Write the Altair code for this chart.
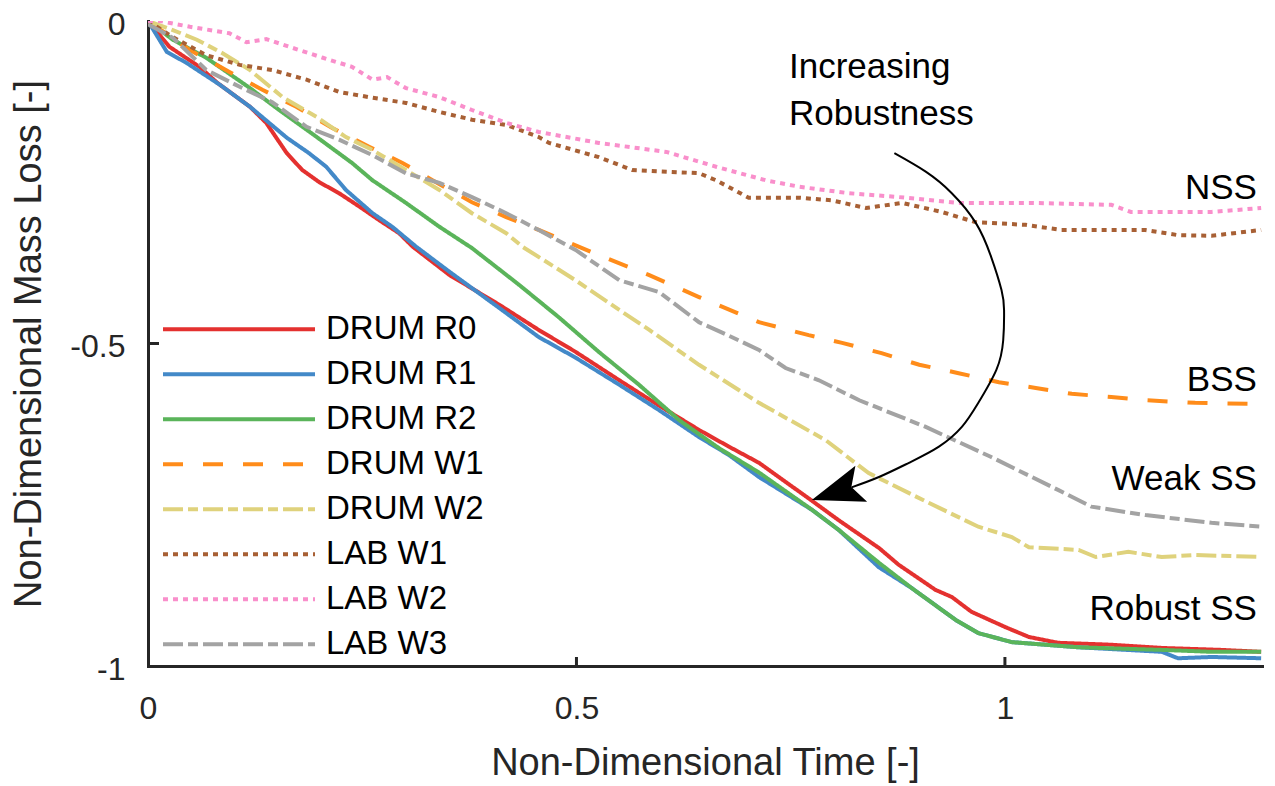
import altair as alt
import pandas as pd

FONT = "Liberation Sans"
AXIS_COLOR = "#262626"

series_names = ["DRUM R0", "DRUM R1", "DRUM R2", "DRUM W1", "DRUM W2", "LAB W1", "LAB W2", "LAB W3"]
series_colors = ["#e4312f", "#4389c8", "#5ab45a", "#ff8c1a", "#dfd27c", "#a86035", "#f98fcb", "#a3a3a3"]
series_dashes = [[1, 0], [1, 0], [1, 0], [20, 20], [20, 5, 10, 5], [5, 5], [5, 5], [20, 5, 10, 5]]

# DRUM R0
r0_t = [0, 0.025, 0.060, 0.081, 0.119, 0.138, 0.162, 0.180, 0.200, 0.223, 0.247, 0.270, 0.293, 0.309, 0.352,
        0.410, 0.456, 0.499, 0.550, 0.596, 0.643, 0.678, 0.713, 0.775, 0.806, 0.853, 0.876, 0.919, 0.938, 0.961,
        1.001, 1.028, 1.062, 1.124, 1.183, 1.252, 1.299]
r0_m = [0, -0.040, -0.071, -0.096, -0.133, -0.158, -0.205, -0.231, -0.250, -0.267, -0.288, -0.309, -0.329, -0.350,
        -0.394, -0.440, -0.479, -0.513, -0.557, -0.596, -0.634, -0.660, -0.685, -0.744, -0.774, -0.817, -0.843,
        -0.882, -0.893, -0.916, -0.940, -0.955, -0.964, -0.967, -0.972, -0.975, -0.978]
# DRUM R1
r1_t = [0, 0.022, 0.045, 0.084, 0.119, 0.162, 0.188, 0.208, 0.231, 0.262, 0.285, 0.313, 0.352, 0.410, 0.456,
        0.499, 0.550, 0.596, 0.643, 0.678, 0.713, 0.775, 0.806, 0.853, 0.891, 0.943, 0.969, 1.008, 1.086, 1.183,
        1.202, 1.241, 1.299]
r1_m = [0, -0.048, -0.065, -0.099, -0.133, -0.181, -0.205, -0.226, -0.262, -0.298, -0.319, -0.350, -0.389, -0.445,
        -0.490, -0.522, -0.564, -0.603, -0.645, -0.673, -0.707, -0.758, -0.789, -0.847, -0.879, -0.929, -0.949,
        -0.963, -0.971, -0.978, -0.988, -0.986, -0.988]
# DRUM R2
r2_t = [0, 0.029, 0.068, 0.119, 0.153, 0.197, 0.238, 0.262, 0.301, 0.340, 0.378, 0.433, 0.480, 0.526, 0.573,
        0.620, 0.666, 0.713, 0.775, 0.806, 0.853, 0.891, 0.943, 0.969, 1.008, 1.086, 1.183, 1.241, 1.299]
r2_m = [0, -0.029, -0.057, -0.104, -0.138, -0.180, -0.220, -0.247, -0.282, -0.319, -0.352, -0.409, -0.460, -0.513,
        -0.564, -0.619, -0.662, -0.700, -0.758, -0.789, -0.840, -0.879, -0.929, -0.949, -0.963, -0.971, -0.975,
        -0.978, -0.978]
# DRUM W1
w1_t = [0, 0.049, 0.095, 0.134, 0.173, 0.215, 0.258, 0.297, 0.332, 0.378, 0.418, 0.456, 0.526, 0.585, 0.643,
        0.713, 0.771, 0.810, 0.856, 0.900, 0.946, 0.993, 1.036, 1.078, 1.124, 1.164, 1.222, 1.299]
w1_m = [0, -0.045, -0.079, -0.107, -0.133, -0.166, -0.195, -0.220, -0.247, -0.281, -0.304, -0.324, -0.363, -0.394,
        -0.428, -0.467, -0.487, -0.499, -0.515, -0.533, -0.546, -0.560, -0.569, -0.578, -0.583, -0.588, -0.592,
        -0.594]
# DRUM W2
w2_t = [0, 0.029, 0.057, 0.087, 0.119, 0.157, 0.197, 0.231, 0.262, 0.301, 0.340, 0.378, 0.418, 0.437, 0.499,
        0.550, 0.585, 0.643, 0.713, 0.791, 0.841, 0.911, 0.969, 1.008, 1.028, 1.086, 1.106, 1.144, 1.183, 1.222,
        1.299]
w2_m = [0, -0.014, -0.029, -0.050, -0.076, -0.118, -0.149, -0.180, -0.200, -0.231, -0.262, -0.298, -0.329, -0.350,
        -0.402, -0.448, -0.479, -0.533, -0.592, -0.650, -0.701, -0.747, -0.784, -0.800, -0.816, -0.820, -0.831,
        -0.823, -0.831, -0.828, -0.831]
# LAB W1
l1_t = [0, 0.029, 0.068, 0.107, 0.145, 0.185, 0.223, 0.262, 0.301, 0.340, 0.378, 0.418, 0.456, 0.468, 0.526,
        0.565, 0.643, 0.663, 0.701, 0.760, 0.798, 0.838, 0.880, 0.926, 0.966, 1.024, 1.066, 1.164, 1.202, 1.241,
        1.299]
l1_m = [0, -0.025, -0.053, -0.068, -0.076, -0.091, -0.110, -0.119, -0.127, -0.141, -0.153, -0.161, -0.180, -0.189,
        -0.211, -0.231, -0.236, -0.247, -0.274, -0.274, -0.278, -0.290, -0.282, -0.296, -0.312, -0.316, -0.324,
        -0.324, -0.332, -0.333, -0.324]
# LAB W2
l2_t = [0, 0.014, 0.049, 0.095, 0.115, 0.138, 0.165, 0.204, 0.238, 0.262, 0.279, 0.301, 0.340, 0.378, 0.418,
        0.456, 0.526, 0.605, 0.663, 0.721, 0.760, 0.818, 0.876, 0.946, 1.028, 1.124, 1.147, 1.241, 1.299]
l2_m = [0, 0, -0.009, -0.019, -0.033, -0.028, -0.040, -0.057, -0.071, -0.091, -0.087, -0.104, -0.118, -0.138,
        -0.158, -0.172, -0.189, -0.203, -0.226, -0.247, -0.257, -0.267, -0.273, -0.282, -0.282, -0.285, -0.296,
        -0.296, -0.290]
# LAB W3
l3_t = [0, 0.029, 0.068, 0.107, 0.145, 0.185, 0.223, 0.262, 0.301, 0.340, 0.378, 0.418, 0.456, 0.499, 0.550,
        0.596, 0.643, 0.678, 0.713, 0.744, 0.783, 0.830, 0.907, 0.984, 1.062, 1.101, 1.164, 1.241, 1.299]
l3_m = [-0.005, -0.026, -0.076, -0.102, -0.126, -0.164, -0.184, -0.208, -0.236, -0.251, -0.273, -0.298, -0.324,
        -0.355, -0.402, -0.420, -0.467, -0.488, -0.510, -0.538, -0.557, -0.588, -0.629, -0.676, -0.727, -0.753,
        -0.766, -0.778, -0.784]

x_ticks = [0, 0.5, 1]
y_ticks = [0, -0.5, -1]

# annotations
region_labels = ["NSS", "BSS", "Weak SS", "Robust SS"]
region_t = [1.294, 1.294, 1.294, 1.294]
region_m = [-0.259, -0.557, -0.710, -0.911]
note_lines = ["Increasing", "Robustness"]
note_t = [0.748, 0.748]
note_m = [-0.072, -0.144]
# curved arrow path
arc_t = [0.871, 0.908, 0.938, 0.966, 0.984, 0.996, 0.999, 0.998, 0.990, 0.969, 0.950, 0.923, 0.888, 0.853, 0.821]
arc_m = [-0.205, -0.234, -0.267, -0.313, -0.366, -0.417, -0.448, -0.495, -0.541, -0.592, -0.629, -0.660,
         -0.685, -0.707, -0.723]
head_t = [0.8035]
head_m = [-0.730]

series_data = [(r0_t, r0_m), (r1_t, r1_m), (r2_t, r2_m), (w1_t, w1_m), (w2_t, w2_m),
               (l1_t, l1_m), (l2_t, l2_m), (l3_t, l3_m)]
rows = []
for name, (ts, ms) in zip(series_names, series_data):
    for t, m in zip(ts, ms):
        rows.append({"series": name, "t": t, "m": m})
df = pd.DataFrame(rows)

xscale = alt.Scale(domain=[0, 1.3], nice=False, zero=False)
yscale = alt.Scale(domain=[-1, 0], nice=False, zero=False)

xaxis = alt.Axis(values=x_ticks, title="Non-Dimensional Time [-]", grid=False, ticks=False, tickSize=0,
                 domainColor=AXIS_COLOR, domainWidth=3, domainCap="square", labelFont=FONT, labelFontSize=32,
                 labelColor=AXIS_COLOR, labelPadding=27, labelFlush=False, labelExpr="'' + datum.value",
                 titleFont=FONT, titleFontSize=38, titleFontWeight="normal", titleColor=AXIS_COLOR,
                 titlePadding=20)
yaxis = alt.Axis(values=y_ticks, title="Non-Dimensional Mass Loss [-]", grid=False, ticks=False, tickSize=0,
                 domainColor=AXIS_COLOR, domainWidth=3, domainCap="square", labelFont=FONT, labelFontSize=32,
                 labelColor=AXIS_COLOR, labelPadding=23, labelFlush=False, labelOffset=3,
                 labelExpr="'' + datum.value",
                 titleFont=FONT, titleFontSize=38, titleFontWeight="normal", titleColor=AXIS_COLOR,
                 titlePadding=21)

legend = alt.Legend(title=None, orient="none", legendX=13, legendY=286, symbolType="stroke",
                    symbolSize=23104, symbolStrokeWidth=4, labelFont=FONT, labelFontSize=33,
                    labelColor="black", labelOffset=9, labelLimit=500, clipHeight=44.7, rowPadding=0,
                    padding=0, offset=0)

lines = alt.Chart(df).mark_line(strokeWidth=4, clip=True).encode(
    x=alt.X("t:Q", scale=xscale, axis=xaxis),
    y=alt.Y("m:Q", scale=yscale, axis=yaxis),
    color=alt.Color("series:N", scale=alt.Scale(domain=series_names, range=series_colors), legend=legend,
                    sort=series_names),
    strokeDash=alt.StrokeDash("series:N", scale=alt.Scale(domain=series_names, range=series_dashes),
                              legend=legend, sort=series_names),
)

xt_df = pd.DataFrame({"t": x_ticks[1:], "m": [-1] * (len(x_ticks) - 1)})
yt_df = pd.DataFrame({"t": [0] * (len(y_ticks) - 2), "m": y_ticks[1:-1]})
xtick_marks = alt.Chart(xt_df).mark_tick(orient="vertical", size=18, thickness=3, color=AXIS_COLOR,
                                         clip=True, opacity=1).encode(x=alt.X("t:Q"), y=alt.Y("m:Q"))
ytick_marks = alt.Chart(yt_df).mark_tick(orient="horizontal", size=22, thickness=3, color=AXIS_COLOR,
                                         clip=True, opacity=1).encode(x=alt.X("t:Q"), y=alt.Y("m:Q"))

reg_df = pd.DataFrame({"label": region_labels, "t": region_t, "m": region_m})
reg_text = alt.Chart(reg_df).mark_text(align="right", baseline="middle", font=FONT, fontSize=35,
                                       color="black").encode(x="t:Q", y="m:Q", text="label:N")
note_df = pd.DataFrame({"label": note_lines, "t": note_t, "m": note_m})
note_text = alt.Chart(note_df).mark_text(align="left", baseline="middle", font=FONT, fontSize=35,
                                         color="black").encode(x="t:Q", y="m:Q", text="label:N")

arc_df = pd.DataFrame({"k": list(range(len(arc_t))), "t": arc_t, "m": arc_m})
arc = alt.Chart(arc_df).mark_line(color="black", strokeWidth=2, interpolate="natural").encode(
    x="t:Q", y="m:Q", order="k:Q")
head_df = pd.DataFrame({"t": head_t, "m": head_m})
head = alt.Chart(head_df).mark_point(shape="M1,0L-1,-0.73L-0.6,0L-1,0.73Z", size=2704, filled=True,
                                     color="black", opacity=1, angle=162, strokeWidth=0).encode(x="t:Q", y="m:Q")

chart = alt.layer(lines, xtick_marks, ytick_marks, reg_text, note_text, arc, head).properties(
    width=1114, height=645,
    autosize=alt.AutoSizeParams(type="none"),
    padding={"left": 140, "top": 13, "right": 5, "bottom": 120},
).configure_view(stroke=None)

chart.save("out.html", embed_options={"renderer": "svg", "actions": False})
